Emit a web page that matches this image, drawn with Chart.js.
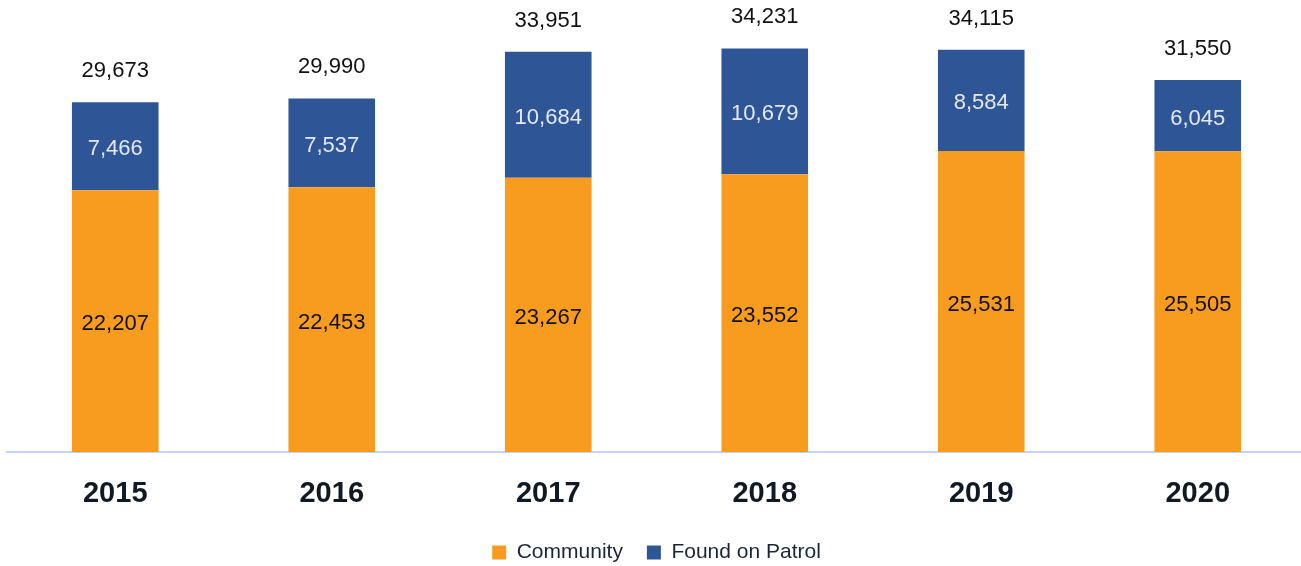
<!DOCTYPE html>
<html>
<head>
<meta charset="utf-8">
<script src="https://cdn.jsdelivr.net/npm/chart.js@4/dist/chart.umd.min.js"></script>
<style>
  html, body { margin: 0; padding: 0; background: #fff; overflow: hidden; }
  #wrap { width: 1306px; height: 566px; position: relative; }
</style>
</head>
<body>
<div id="wrap"><canvas id="c"></canvas></div>
<script>
const years = ['2015', '2016', '2017', '2018', '2019', '2020'];
const community = [22207, 22453, 23267, 23552, 25531, 25505];
const foundOnPatrol = [7466, 7537, 10684, 10679, 8584, 6045];
const totals = [29673, 29990, 33951, 34231, 34115, 31550];

const ORANGE = '#F89C20';
const BLUE = '#2E5697';

const fmt = v => v.toLocaleString('en-US');

const labelPlugin = {
  id: 'stackLabels',
  afterDatasetsDraw(chart) {
    const ctx = chart.ctx;
    ctx.save();
    ctx.textAlign = 'center';
    ctx.textBaseline = 'middle';
    ctx.font = '22px "Liberation Sans", Arial, sans-serif';
    chart.data.datasets.forEach((ds, di) => {
      const meta = chart.getDatasetMeta(di);
      meta.data.forEach((el, i) => {
        const mid = (el.y + el.base) / 2;
        ctx.fillStyle = di === 0 ? '#111111' : '#E3E8F2';
        ctx.fillText(fmt(ds.data[i]), el.x, mid + 3);
      });
    });
    const topMeta = chart.getDatasetMeta(chart.data.datasets.length - 1);
    ctx.fillStyle = '#111111';
    topMeta.data.forEach((el, i) => {
      ctx.fillText(fmt(totals[i]), el.x, el.y - 31);
    });
    ctx.restore();
  }
};

new Chart(document.getElementById('c'), {
  type: 'bar',
  data: {
    labels: years,
    datasets: [
      { label: 'Community', data: community, backgroundColor: ORANGE, barPercentage: 0.4, categoryPercentage: 1.0 },
      { label: 'Found on Patrol', data: foundOnPatrol, backgroundColor: BLUE, barPercentage: 0.4, categoryPercentage: 1.0 }
    ]
  },
  options: {
    responsive: true,
    maintainAspectRatio: false,
    animation: false,
    layout: { padding: { left: 7, right: 0, top: 4, bottom: 0 } },
    plugins: {
      legend: {
        position: 'bottom',
        maxHeight: 48,
        labels: {
          boxWidth: 14,
          boxHeight: 14,
          padding: 24,
          color: '#1B2533',
          font: { family: '"Liberation Sans", Arial, sans-serif', size: 21 }
        }
      },
      tooltip: { enabled: false }
    },
    scales: {
      x: {
        stacked: true,
        grid: { display: false, drawTicks: false },
        border: { display: true, color: '#C4D4F6', width: 2 },
        ticks: {
          padding: 24.6,
          color: '#111A24',
          font: { family: '"Liberation Sans", Arial, sans-serif', size: 29, weight: 'bold' }
        },
        afterFit(scale) { scale.height = 66; }
      },
      y: {
        stacked: true,
        display: false,
        min: 0,
        max: 38000
      }
    }
  },
  plugins: [labelPlugin]
});
</script>
</body>
</html>
